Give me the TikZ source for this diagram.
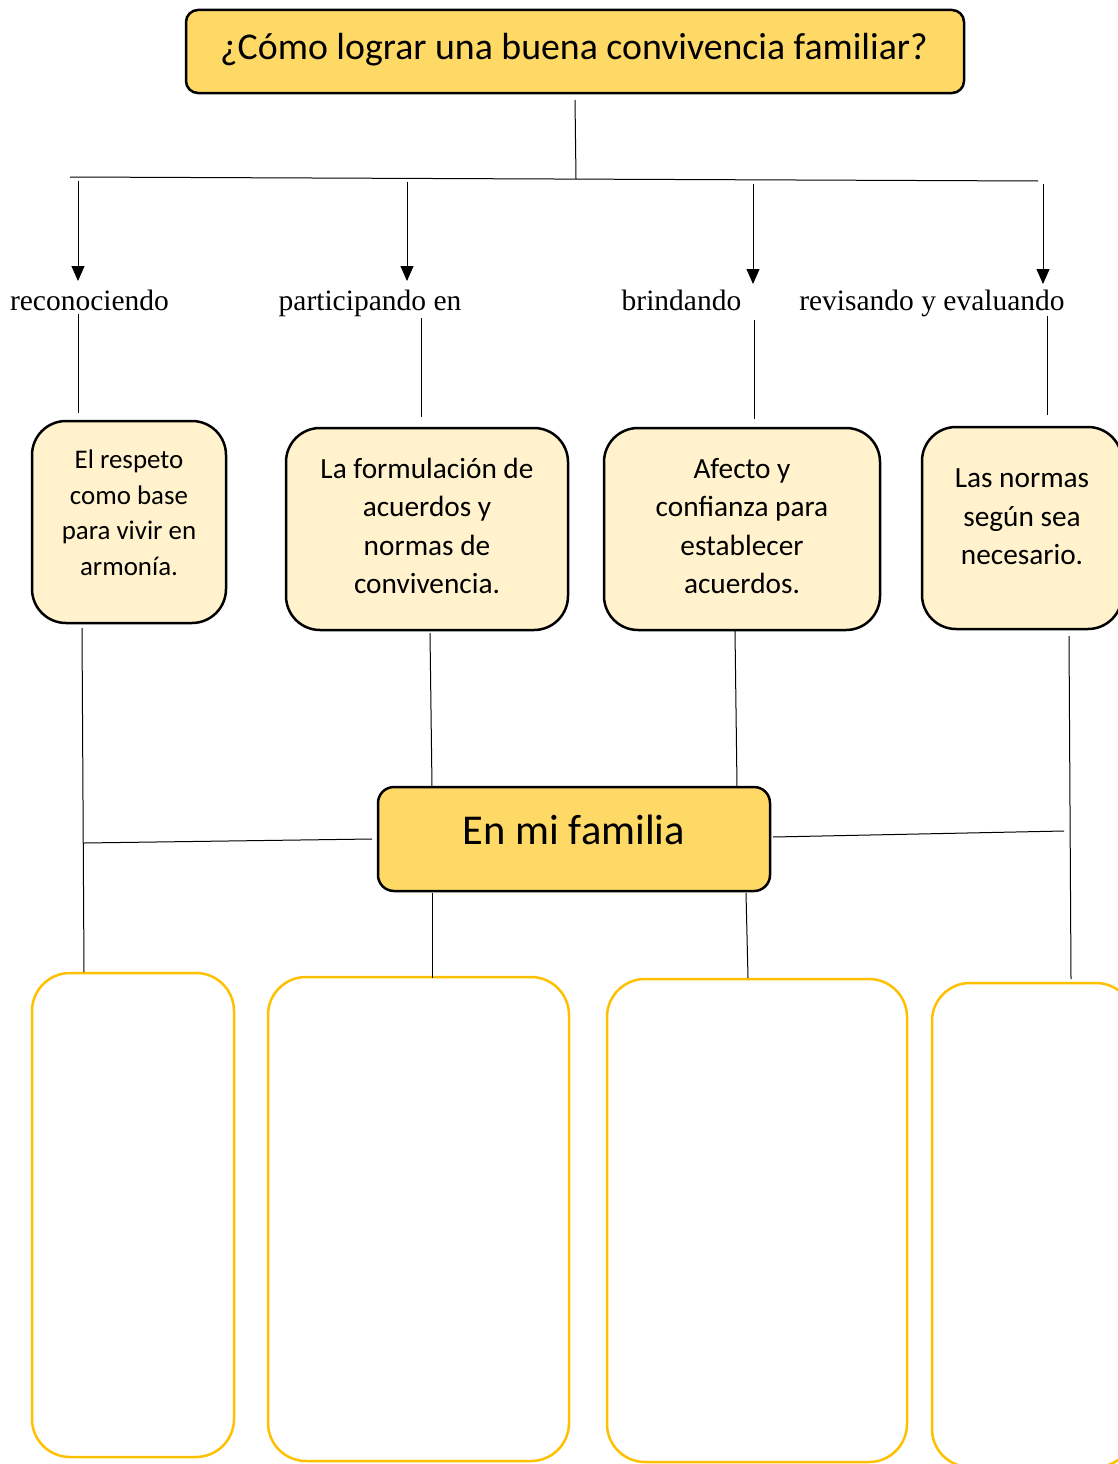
\documentclass[tikz,border=0pt]{standalone}
\usepackage{fontspec}
\setmainfont{Carlito}
\newfontfamily\seriffont{Liberation Serif}
\usetikzlibrary{arrows.meta}
\definecolor{gold}{HTML}{FFD966}
\definecolor{cream}{HTML}{FFF2CC}
\definecolor{amber}{HTML}{FFC000}
\begin{document}
\begin{tikzpicture}[x=1pt,y=-1pt,
  mainbox/.style={draw=black, line width=2.5pt, fill=gold, rounded corners=12pt, inner sep=0pt},
  ideabox/.style={draw=black, line width=2.5pt, fill=cream, rounded corners=34pt, inner sep=0pt},
  emptybox/.style={draw=amber, line width=2.5pt, fill=white, rounded corners=38pt, inner sep=0pt},
  ideatext/.style={align=center, inner sep=0pt, font=\fontsize{29.3}{38.5}\selectfont},
  verb/.style={font=\seriffont\fontsize{29.5}{32}\selectfont, inner sep=0pt, anchor=base},
  link/.style={line width=1pt, black},
  arr/.style={link, -{Triangle[length=15pt,width=13pt]}}
]
\useasboundingbox (0,0) rectangle (1118,1464);

% title
\node[mainbox, minimum width=778pt, minimum height=83pt] (title) at (575,51.5) {};
\node[inner sep=0pt, font=\fontsize{37.8}{40}\selectfont] (titletext) at (574,50) {¿Cómo lograr una buena convivencia familiar?};

% connector from title to the bar
\coordinate (t0) at (575,100);
\coordinate (t1) at (576,179);
\coordinate (barL) at (70,177);
\coordinate (barR) at (1038,181);
\draw[link] (t0) -- (t1);
\draw[link] (barL) -- (barR);

% verbs
\node[verb] (v1) at (89.5,310) {reconociendo};
\node[verb] (v2) at (370,310) {participando en};
\node[verb] (v3) at (681.5,310) {brindando};
\node[verb] (v4) at (932,310) {revisando y evaluando};

\coordinate (a1s) at (78,181);   \coordinate (a1e) at (78,281);
\coordinate (a2s) at (407,182);  \coordinate (a2e) at (407,281);
\coordinate (a3s) at (753,184);  \coordinate (a3e) at (753,284);
\coordinate (a4s) at (1043,184); \coordinate (a4e) at (1043,284);
\draw[arr] (a1s) -- (a1e);
\draw[arr] (a2s) -- (a2e);
\draw[arr] (a3s) -- (a3e);
\draw[arr] (a4s) -- (a4e);

% idea boxes
\node[ideabox, minimum width=194pt, minimum height=202pt] (b1) at (129,522) {};
\node[ideabox, minimum width=282pt, minimum height=202pt] (b2) at (427,529) {};
\node[ideabox, minimum width=276pt, minimum height=202pt] (b3) at (742,529) {};
\node[ideabox, minimum width=200pt, minimum height=202pt] (b4) at (1022,528) {};

\node[ideatext, font=\fontsize{26.9}{35.5}\selectfont] (b1t) at (129,513) {El respeto\\como base\\para vivir en\\armonía.};
\node[ideatext] (b2t) at (427,526) {La formulación de\\acuerdos y\\normas de\\convivencia.};
\node[ideatext] (b3t) at (742,526) {Afecto y\\confianza para\\establecer\\acuerdos.};
\node[ideatext] (b4t) at (1022,517) {Las normas\\según sea\\necesario.};

% lines from verbs down to boxes
\coordinate (l1s) at (78,314);   \coordinate (l1e) at (78,413);
\coordinate (l2s) at (421,318);  \coordinate (l2e) at (421,417);
\coordinate (l3s) at (754,320);  \coordinate (l3e) at (754,419);
\coordinate (l4s) at (1047,316); \coordinate (l4e) at (1047,415);
\draw[link] (l1s) -- (l1e);
\draw[link] (l2s) -- (l2e);
\draw[link] (l3s) -- (l3e);
\draw[link] (l4s) -- (l4e);

% center box
\node[mainbox, minimum width=392pt, minimum height=104pt, rounded corners=16pt] (fam) at (574,839) {};
\node[inner sep=0pt, font=\fontsize{42.5}{44}\selectfont] (famtext) at (574,830) {En mi familia};

% empty boxes
\node[emptybox, minimum width=202pt, minimum height=484pt] (e1) at (133,1215) {};
\node[emptybox, minimum width=301pt, minimum height=484pt] (e2) at (418.5,1219) {};
\node[emptybox, minimum width=300pt, minimum height=483pt] (e3) at (757,1220.5) {};
\node[emptybox, minimum width=202pt, minimum height=484pt] (e4) at (1033,1225) {};

% lines below boxes
\coordinate (d1s) at (82,628);   \coordinate (d1e) at (84,972);
\coordinate (d2s) at (430,633);  \coordinate (d2e) at (432,787);
\coordinate (d3s) at (735,631);  \coordinate (d3e) at (737,787);
\coordinate (d4s) at (1069,636); \coordinate (d4e) at (1071,979);
\draw[link] (d1s) -- (d1e);
\draw[link] (d2s) -- (d2e);
\draw[link] (d3s) -- (d3e);
\draw[link] (d4s) -- (d4e);

% horizontal links to the center box
\coordinate (hL1) at (84,843);  \coordinate (hL2) at (372,839);
\coordinate (hR1) at (773,837); \coordinate (hR2) at (1064,831);
\draw[link] (hL1) -- (hL2);
\draw[link] (hR1) -- (hR2);

% center box to empty boxes
\coordinate (f2s) at (432,893); \coordinate (f2e) at (432,978);
\coordinate (f3s) at (746,893); \coordinate (f3e) at (748,978);
\draw[link] (f2s) -- (f2e);
\draw[link] (f3s) -- (f3e);
\end{tikzpicture}
\end{document}
